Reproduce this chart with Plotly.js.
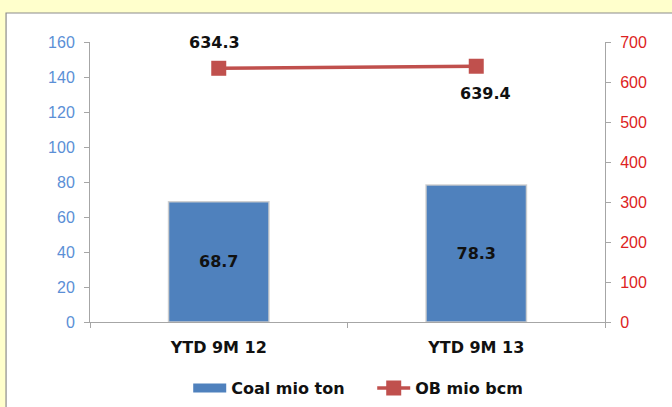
<!DOCTYPE html>
<html>
<head>
<meta charset="utf-8">
<script src="https://cdn.plot.ly/plotly-3.0.1.min.js"></script>
<style>html,body{margin:0;padding:0;background:#FFFFCC;}</style>
</head>
<body>
<div id="chart" style="width:672px;height:407px;"></div>
<script>
const categories = ["YTD 9M 12", "YTD 9M 13"];
const coalValues = [68.7, 78.3];
const obValues = [634.3, 639.4];
const coalName = "Coal mio ton";
const obName = "OB mio bcm";
const leftTicks = [0, 20, 40, 60, 80, 100, 120, 140, 160];
const rightTicks = [0, 100, 200, 300, 400, 500, 600, 700];

const labelFont = {family: "DejaVu Sans", size: 16, color: "#111111"};

const traces = [
  {
    type: "bar", name: coalName, x: categories, y: coalValues,
    text: coalValues.map(v => "<b>" + v.toFixed(1) + "</b>"),
    textposition: "inside", insidetextanchor: "middle",
    textfont: labelFont,
    marker: {color: "#4F81BD", line: {color: "rgba(205,205,205,0.9)", width: 1.5}},
    width: 0.39, yaxis: "y", hoverinfo: "none", showlegend: false
  },
  {
    // legend entry for the bar series (wide rectangle swatch)
    type: "scatter", mode: "lines", name: coalName, x: [null], y: [null],
    line: {color: "#4F81BD", width: 9}, hoverinfo: "none", showlegend: true
  },
  {
    type: "scatter", mode: "lines+markers", name: obName, x: categories, y: obValues,
    yaxis: "y2",
    line: {color: "#C0504D", width: 3.5},
    marker: {symbol: "square", size: 15, color: "#C0504D"},
    hoverinfo: "none"
  }
];

const obShifts = [{x: -4, y: 26}, {x: 9, y: -27}];
const annotations = obValues.map((v, i) => ({
  x: categories[i], y: v, xref: "x", yref: "y2",
  text: "<b>" + v.toFixed(1) + "</b>", showarrow: false,
  font: labelFont, xshift: obShifts[i].x, yshift: obShifts[i].y
}));

const layout = {
  width: 672, height: 407,
  paper_bgcolor: "#FFFFCC", plot_bgcolor: "rgba(0,0,0,0)",
  margin: {l: 90, r: 67, t: 42, b: 85, autoexpand: false},
  showlegend: true,
  bargap: 0.61,
  font: {family: "Liberation Sans"},
  shapes: [{
    type: "rect", xref: "paper", yref: "paper",
    x0: -0.163, x1: 1.15, y0: -0.32, y1: 1.1036,
    fillcolor: "#FFFFFF", line: {color: "#8C8C8C", width: 1.2}, layer: "below"
  }],
  xaxis: {
    type: "category", showline: true, linecolor: "#A6A6A6", linewidth: 1,
    ticks: "outside", tickson: "boundaries", ticklen: 5, tickcolor: "#A6A6A6",
    tickfont: {family: "DejaVu Sans", size: 16, color: "#111111", weight: "bold"},
    ticklabelstandoff: 11,
    showgrid: false, zeroline: false, fixedrange: true
  },
  yaxis: {
    range: [0, 160], tickvals: leftTicks, showline: true, linecolor: "#A6A6A6",
    ticks: "outside", ticklen: 5, tickcolor: "#A6A6A6",
    tickfont: {family: "Liberation Sans", size: 16, color: "#5B8FD6"},
    showgrid: false, zeroline: false, ticklabelstandoff: 6
  },
  yaxis2: {
    range: [0, 700], tickvals: rightTicks, overlaying: "y", side: "right",
    showline: true, linecolor: "#A6A6A6",
    ticks: "outside", ticklen: 5, tickcolor: "#A6A6A6",
    tickfont: {family: "Liberation Sans", size: 16, color: "#DD2222"},
    showgrid: false, zeroline: false, ticklabelstandoff: 6
  },
  legend: {
    orientation: "h", x: 0.548, xanchor: "center", y: -0.236, yanchor: "middle",
    font: {family: "DejaVu Sans", size: 16, color: "#111111", weight: "bold"},
    bgcolor: "rgba(0,0,0,0)", itemwidth: 33, traceorder: "normal",
    entrywidth: 136, entrywidthmode: "pixels"
  },
  annotations: annotations
};

Plotly.newPlot("chart", traces, layout, {displayModeBar: false, staticPlot: true});
</script>
</body>
</html>
